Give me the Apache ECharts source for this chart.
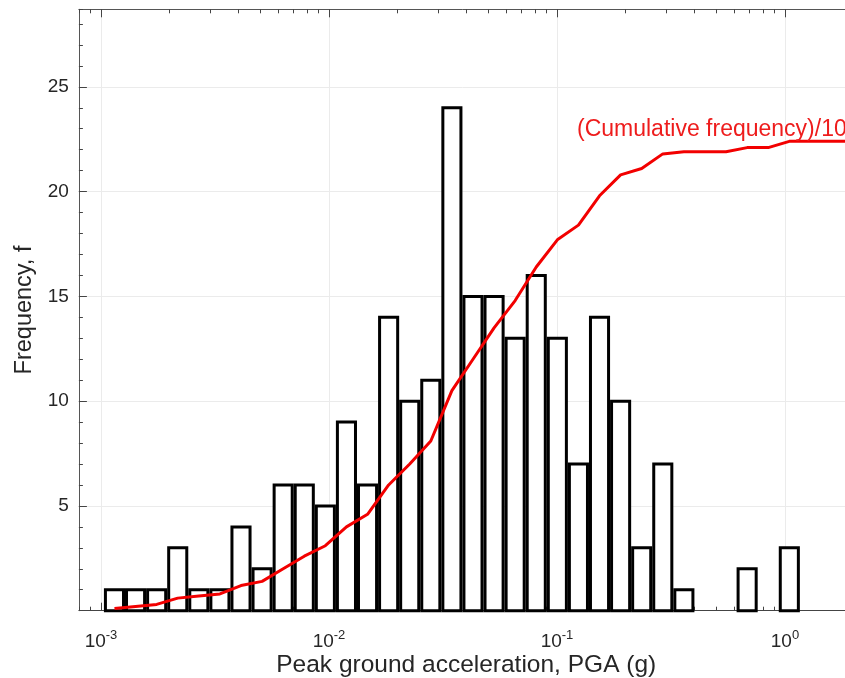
<!DOCTYPE html>
<html>
<head>
<meta charset="utf-8">
<title>PGA histogram</title>
<script src="https://cdn.jsdelivr.net/npm/echarts@6/dist/echarts.min.js"></script>
<style>
  html, body { margin: 0; padding: 0; background: #fff; }
  #chart { width: 845px; height: 678px; }
</style>
</head>
<body>
<div id="chart"></div>
<script>
// histogram bins (log spaced): left edge of first bin and width in decades
var binStart = 0.00103;
var binLogWidth = 0.0925;
// number of records in each bin
var counts = [1, 1, 1, 3, 1, 1, 4, 2, 6, 6, 5, 9, 6, 14, 10, 11, 24, 15, 15, 13, 16, 13, 7, 14, 10, 3, 7, 1, 0, 0, 2, 0, 3, 0, 0, 0];
// (cumulative frequency)/10 at the bin centres
var cumFreq10 = [0.1, 0.2, 0.3, 0.6, 0.7, 0.8, 1.2, 1.4, 2.0, 2.6, 3.1, 4.0, 4.6, 6.0, 7.0, 8.1, 10.5, 12.0, 13.5, 14.8, 16.4, 17.7, 18.4, 19.8, 20.8, 21.1, 21.8, 21.9, 21.9, 21.9, 22.1, 22.1, 22.4, 22.4, 22.4, 22.4];
// axis ticks
var decadeTicks = [0.0001, 0.001, 0.01, 0.1, 1];
var minorSteps = [2, 3, 4, 5, 6, 7, 8, 9];
var xMin = 0.0008, xMax = 2;
var yMax = 28.7;

var FONT = '"Liberation Sans", Arial, Helvetica, sans-serif';
var TXT = '#262626';

var majorX = decadeTicks.filter(function (v) { return v >= xMin && v <= xMax; });
var minorX = [];
decadeTicks.forEach(function (d) {
    minorSteps.forEach(function (m) {
        var v = d * m;
        if (v >= xMin && v <= xMax) minorX.push(v);
    });
});

var bars = [], line = [];
counts.forEach(function (c, i) {
    var lo = binStart * Math.pow(10, binLogWidth * i);
    var hi = binStart * Math.pow(10, binLogWidth * (i + 1));
    var mid = binStart * Math.pow(10, binLogWidth * (i + 0.5));
    bars.push([lo, hi, c]);
    line.push([mid, cumFreq10[i]]);
});

function xAxisDef(pos, ticks, len, extra) {
    var a = {
        type: 'log', logBase: 10, position: pos, min: xMin, max: xMax,
        axisLine: { show: false },
        axisTick: { show: true, inside: true, length: len, customValues: ticks,
            lineStyle: { color: '#444', width: 1 } },
        axisLabel: { show: false },
        splitLine: { show: false }
    };
    for (var k in extra) a[k] = extra[k];
    return a;
}

var chart = echarts.init(document.getElementById('chart'));

var option = {
    animation: false,
    backgroundColor: '#fff',
    grid: { left: 78.9, top: 9.3, width: 774.7, height: 601.4, containLabel: false, outerBoundsMode: 'none' },
    xAxis: [
        xAxisDef('bottom', majorX, 8, {
            axisLine: { show: true, lineStyle: { color: '#444', width: 1 } },
            axisLabel: {
                show: true, customValues: majorX, margin: 18, color: TXT,
                formatter: function (v) {
                    return '{b|10}{s|' + Math.round(Math.log10(v)) + '}';
                },
                rich: {
                    b: { fontSize: 19, fontFamily: FONT, color: TXT },
                    s: { fontSize: 13, fontFamily: FONT, color: TXT, padding: [0, 0, 13, 0] }
                }
            },
            splitLine: { show: true, lineStyle: { color: '#ebebeb', width: 1 } },
            name: 'Peak ground acceleration, PGA (g)',
            nameLocation: 'middle', nameGap: 42, nameMoveOverlap: false,
            nameTextStyle: { fontSize: 24.5, fontFamily: FONT, color: TXT }
        }),
        xAxisDef('bottom', minorX, 4, {}),
        xAxisDef('top', majorX, 8, {
            axisLine: { show: true, onZero: false, lineStyle: { color: '#555', width: 1 } }
        }),
        xAxisDef('top', minorX, 4, {})
    ],
    yAxis: [
        {
            type: 'value', position: 'left', min: 0, max: yMax, interval: 5,
            axisLine: { show: true, lineStyle: { color: '#555', width: 1 } },
            axisTick: { show: true, inside: true, length: 8, lineStyle: { color: '#444' } },
            axisLabel: { color: TXT, fontSize: 19, fontFamily: FONT, margin: 10,
                showMinLabel: false, showMaxLabel: false },
            splitLine: { show: true, lineStyle: { color: '#ebebeb', width: 1 } },
            name: 'Frequency, f', nameLocation: 'middle', nameGap: 42,
            nameTextStyle: { fontSize: 23.5, fontFamily: FONT, color: TXT }
        },
        {
            type: 'value', position: 'left', min: 0, max: yMax, interval: 1,
            axisLine: { show: false },
            axisTick: { show: true, inside: true, length: 4, lineStyle: { color: '#444' } },
            axisLabel: { show: false },
            splitLine: { show: false }
        }
    ],
    series: [
        {
            type: 'custom',
            xAxisIndex: 0, yAxisIndex: 0,
            data: bars,
            encode: { x: [0, 1], y: 2 },
            renderItem: function (params, api) {
                var c = api.value(2);
                if (!c) return null;
                var lw = 3;
                var p0 = api.coord([api.value(0), 0]);
                var p1 = api.coord([api.value(1), c]);
                return {
                    type: 'rect',
                    shape: { x: p0[0] + lw / 2, y: p1[1], width: p1[0] - p0[0] - lw, height: p0[1] - p1[1] },
                    style: { fill: '#fff', stroke: '#000', lineWidth: lw }
                };
            }
        },
        {
            type: 'line',
            xAxisIndex: 0, yAxisIndex: 0,
            data: line,
            showSymbol: false,
            lineStyle: { color: '#f20000', width: 3 },
            z: 5
        }
    ],
    graphic: [
        {
            type: 'text', left: 577, top: 118, z: 10,
            style: { text: '(Cumulative frequency)/10', fill: '#ee1c1c',
                fontSize: 23, fontFamily: FONT }
        }
    ]
};

chart.setOption(option);
</script>
</body>
</html>
